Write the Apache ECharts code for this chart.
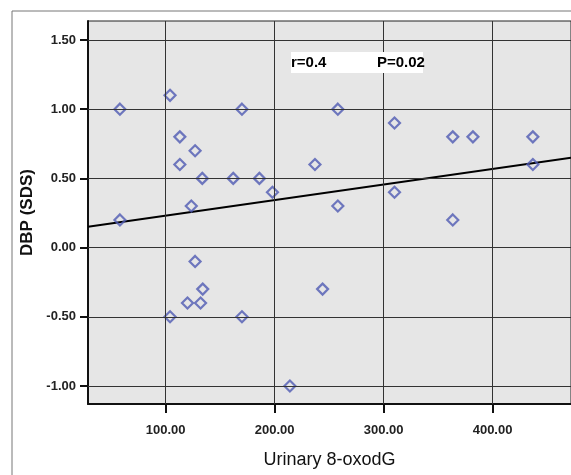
<!DOCTYPE html>
<html>
<head>
<meta charset="utf-8">
<script src="https://cdn.jsdelivr.net/npm/echarts@6/dist/echarts.min.js"></script>
<style>
  html, body { margin: 0; padding: 0; background: #fff; }
  #main { width: 571px; height: 475px; }
</style>
</head>
<body>
<div id="main"></div>
<script>
// urinary 8-oxodG vs DBP (SDS)
var oxodG = [58, 104, 170, 113, 127, 113, 133.6, 162, 186, 198, 123.5, 58,
             258, 310, 363.5, 382, 437, 237, 437, 258, 310, 363.5,
             127, 134, 120, 132, 104, 170, 214, 244];
var dbp = [1.0, 1.1, 1.0, 0.8, 0.7, 0.6, 0.5, 0.5, 0.5, 0.4, 0.3, 0.2,
           1.0, 0.9, 0.8, 0.8, 0.8, 0.6, 0.6, 0.3, 0.4, 0.2,
           -0.1, -0.3, -0.4, -0.4, -0.5, -0.5, -1.0, -0.3];

// fit line ends
var fitX = [28.7, 472];
var fitY = [0.15, 0.65];

var xTicks = [100, 200, 300, 400];
var yTicks = [-1.0, -0.5, 0.0, 0.5, 1.0, 1.5];

var points = oxodG.map(function (v, i) { return [v, dbp[i]]; });
var fitLine = fitX.map(function (v, i) { return [v, fitY[i]]; });

var myChart = echarts.init(document.getElementById('main'));
myChart.setOption({
  backgroundColor: '#fff',
  animation: false,
  grid: {
    left: 88, top: 21, right: 0, bottom: 71,
    outerBoundsMode: 'none',
    containLabel: false,
    show: true,
    backgroundColor: '#e6e6e6',
    borderColor: '#222',
    borderWidth: 1
  },
  graphic: [
    // outer frame
    { type: 'rect', shape: { x: 12, y: 11, width: 600, height: 500 },
      style: { fill: 'none', stroke: '#777', lineWidth: 1 }, z: -1 },
    // r / P box
    { type: 'rect', shape: { x: 291, y: 52, width: 132, height: 21 },
      style: { fill: '#fff' }, z: 10 },
    { type: 'text', x: 291, y: 63, z: 11,
      style: { text: 'r=0.4', fill: '#000', font: 'bold 15px Arial', verticalAlign: 'middle' } },
    { type: 'text', x: 377, y: 63, z: 11,
      style: { text: 'P=0.02', fill: '#000', font: 'bold 15px Arial', verticalAlign: 'middle' } }
  ],
  xAxis: {
    type: 'value',
    min: 28.7, max: 472,
    name: 'Urinary 8-oxodG',
    nameLocation: 'middle',
    nameGap: 47,
    nameTextStyle: { fontFamily: 'Arial', fontSize: 18, color: '#111' },
    axisLine: { show: true, onZero: false, lineStyle: { color: '#111', width: 2 } },
    axisTick: { show: true, length: 9, lineStyle: { color: '#111', width: 2 }, customValues: xTicks },
    axisLabel: {
      customValues: xTicks, margin: 20,
      fontFamily: 'Arial', fontWeight: 'bold', fontSize: 13, color: '#222',
      formatter: function (v) { return v.toFixed(2); }
    },
    splitLine: { show: false }
  },
  yAxis: {
    type: 'value',
    min: -1.13, max: 1.637,
    name: 'DBP (SDS)',
    nameLocation: 'middle',
    nameGap: 50,
    nameRotate: 90,
    nameTextStyle: { fontFamily: 'Arial', fontWeight: 'bold', fontSize: 17, color: '#111' },
    axisLine: { show: true, onZero: false, lineStyle: { color: '#111', width: 2 } },
    axisTick: { show: true, length: 8, lineStyle: { color: '#111', width: 2 }, customValues: yTicks },
    axisLabel: {
      customValues: yTicks, margin: 12,
      fontFamily: 'Arial', fontWeight: 'bold', fontSize: 13, color: '#222',
      formatter: function (v) { return v.toFixed(2); }
    },
    splitLine: { show: false }
  },
  series: [
    {
      // grid lines drawn at the tick values
      type: 'line', data: [], silent: true,
      markLine: {
        silent: true, symbol: 'none', label: { show: false },
        lineStyle: { color: '#333', width: 1, type: 'solid' },
        data: xTicks.map(function (v) { return { xAxis: v }; })
          .concat(yTicks.map(function (v) { return { yAxis: v }; }))
      }
    },
    {
      type: 'line', data: fitLine, symbol: 'none', silent: true, z: 3,
      lineStyle: { color: '#000', width: 2 }
    },
    {
      type: 'scatter', data: points, symbol: 'diamond', symbolSize: 11, z: 4,
      itemStyle: { color: 'rgba(0,0,0,0)', borderColor: '#4f5ab3', borderWidth: 2.2 }
    }
  ]
});
window.onresize = function () {
  myChart.resize();
};
</script>
</body>
</html>
